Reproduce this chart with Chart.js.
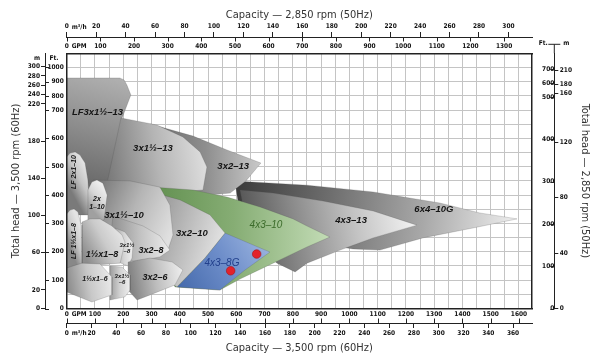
<!DOCTYPE html>
<html>
<head>
<meta charset="utf-8">
<title>Pump coverage chart</title>
<script src="https://cdn.jsdelivr.net/npm/chart.js@4.4.1/dist/chart.umd.min.js"></script>
<style>
html,body{margin:0;padding:0;background:#fff;}
#wrap{width:600px;height:357px;}
canvas{display:block;}
</style>
</head>
<body>
<div id="wrap"><canvas id="chart" width="600" height="357"></canvas></div>
<script>
// ===== Axis tick values =====
const GPM_GRID_60 = [0,50,100,150,200,250,300,350,400,450,500,550,600,650,700,750,800,850,900,950,1000,1050,1100,1150,1200,1250,1300,1350,1400,1450,1500,1550,1600];
const GPM_LABELS_60 = [0,100,200,300,400,500,600,700,800,900,1000,1100,1200,1300,1400,1500,1600];
const M3H_LABELS_60 = [0,20,40,60,80,100,120,140,160,180,200,220,240,260,280,300,320,340,360];
const GPM_LABELS_50 = [0,100,200,300,400,500,600,700,800,900,1000,1100,1200,1300];
const M3H_LABELS_50 = [0,20,40,60,80,100,120,140,160,180,200,220,240,260,280,300];
const FT_GRID_60 = [0,50,100,150,200,250,300,350,400,450,500,550,600,650,700,800,900,1000,1100];
const FT_LABELS_60 = [0,100,200,300,400,500,600,700,800,900,1000];
const M_LABELS_60 = [0,20,60,100,140,180,220,240,260,280,300];
const FT_LABELS_50 = [0,100,200,300,400,500,600,700];
const M_LABELS_50 = [0,40,80,120,160,180,210];

// ===== Pump coverage regions: [capacity GPM, total head ft] at 3,500 rpm =====
const PUMP_NAMES = ['6x4–10G','4x3–13','3x2–13','LF3x1½–13','3x1½–13','4x3–10','4x3–8G','3x2–10','3x1½–10','LF 2x1–10','2x1–10','3x2–8','3x1½–8','1½x1–8','LF 1½x1–8','3x2–6','3x1½–6','1½x1–6'];
const REGION_6x4_10G = [[595,450],[850,435],[1084,411],[1320,372],[1461,337],[1593,316],[1437,284],[1260,249],[1108,206],[1013,210],[825,241],[613,330]];
const REGION_4x3_13 = [[613,418],[730,407],[907,379],[1084,344],[1239,294],[1084,249],[967,206],[850,160],[808,129],[744,160],[648,241]];
const REGION_3x2_13 = [[295,651],[447,608],[567,559],[687,513],[634,450],[578,407],[471,397],[295,418]];
const REGION_LF3x1h_13 = [[0,926],[188,926],[203,912],[213,876],[227,806],[196,672],[171,524],[160,418],[0,418]];
const REGION_3x1h_13 = [[192,672],[319,647],[411,605],[472,552],[496,499],[482,418],[259,400],[143,443]];
const REGION_4x3_10 = [[249,432],[447,418],[567,393],[684,358],[801,316],[850,291],[931,252],[850,217],[730,160],[613,104],[542,65],[383,76],[295,277]];
const REGION_4x3_8G = [[560,266],[719,199],[631,136],[542,65],[390,76],[489,178]];
const REGION_3x2_10 = [[118,446],[249,425],[401,383],[507,330],[560,266],[489,178],[390,76],[330,118],[259,189],[171,277],[100,383]];
const REGION_3x1h_10 = [[93,453],[224,450],[330,428],[365,365],[376,259],[358,206],[224,241],[118,312]];
const REGION_LF2x1_10 = [[0,534],[12,548],[30,552],[47,541],[65,513],[75,453],[82,330],[0,330]];
const REGION_2x1_10 = [[75,418],[89,446],[107,453],[128,442],[143,400],[132,312],[75,305]];
const REGION_3x2_8 = [[164,326],[270,291],[330,256],[365,206],[330,182],[270,171],[189,164],[153,241]];
const REGION_3x1h_8 = [[171,284],[206,270],[235,231],[231,178],[217,150],[182,164]];
const REGION_1hx1_8 = [[54,305],[82,316],[118,316],[160,291],[196,259],[206,234],[189,160],[54,150]];
const REGION_LF1hx1_8 = [[0,333],[12,347],[26,351],[40,340],[51,294],[54,143],[0,143]];
const REGION_3x2_6 = [[217,164],[295,178],[373,164],[411,136],[383,83],[295,48],[249,30],[217,65]];
const REGION_3x1h_6 = [[153,150],[196,146],[224,118],[224,65],[206,41],[153,30]];
const REGION_1hx1_6 = [[0,143],[54,160],[118,157],[160,111],[160,48],[89,23],[0,58]];
const PUMP_REGIONS = [REGION_6x4_10G,REGION_4x3_13,REGION_3x2_13,REGION_LF3x1h_13,REGION_3x1h_13,REGION_4x3_10,REGION_4x3_8G,REGION_3x2_10,REGION_3x1h_10,REGION_LF2x1_10,REGION_2x1_10,REGION_3x2_8,REGION_3x1h_8,REGION_1hx1_8,REGION_LF1hx1_8,REGION_3x2_6,REGION_3x1h_6,REGION_1hx1_6];

// ===== Duty points =====
const DUTY_GPM = [672, 580];
const DUTY_FT = [192, 133];

// ===== Region labels (text lines, anchor GPM, anchor ft) =====
const LABEL_TEXT = [['LF3x1½–13'],['3x1½–13'],['3x2–13'],['4x3–13'],['6x4–10G'],['4x3–10'],['4x3–8G'],['3x2–10'],['3x1½–10'],['2x','1–10'],['LF 2x1–10'],['LF 1½x1–8'],['1½x1–8'],['3x1½','–8'],['3x2–8'],['1½x1–6'],['3x1½','–6'],['3x2–6']];
const LABEL_GPM = [109,305,589,1006,1299,705,549,443,203,107,26,26,125,213,298,100,196,312];
const LABEL_FT = [693,566,502,312,351,294,160,266,330,372,481,238,189,213,206,104,104,111];

// ===== Styles =====
const FONT_NARROW = '"DejaVu Sans Condensed", "Liberation Sans Narrow", Roboto, sans-serif';
const FONT_LBL = '"Liberation Sans", Arial, sans-serif';
const REGION_FILL = [
  {dir:[0,0.3,1,0.7], stops:['#3a3a3a','#6e6e6e','#a8a8a8','#efefef']},
  {dir:[0,0.8,1,0.4], stops:['#4d4d4d','#8a8a8a','#c4c4c4','#f4f4f4']},
  {dir:[0,0.5,1,0.5], stops:['#6a6a6a','#8e8e8e','#c9c9c9']},
  {dir:[0.3,1,0.8,0], stops:['#666666','#8c8c8c','#b0b0b0']},
  {dir:[0,0.6,1,0.4], stops:['#7b7b7b','#b5b5b5','#e0e0e0']},
  {dir:[0,0.5,1,0.5], stops:['#5b8a49','#86ad74','#c3dcb6']},
  {dir:[0,1,1,0], stops:['#4469ab','#6d8dc9','#a2bae3']},
  {dir:[0,0.2,1,0.6], stops:['#5a5a5a','#a0a0a0','#e6e6e6']},
  {dir:[0,0.2,1,0.7], stops:['#777777','#b5b5b5','#e0e0e0']},
  {dir:[0,0.5,1,0.3], stops:['#7a7a7a','#c4c4c4','#e8e8e8']},
  {dir:[0,0.6,1,0.2], stops:['#a0a0a0','#d8d8d8','#f2f2f2']},
  {dir:[0,0.5,1,0.5], stops:['#8d8d8d','#c2c2c2','#ececec']},
  {dir:[0,0.5,1,0.5], stops:['#a5a5a5','#d5d5d5','#f0f0f0']},
  {dir:[0,0.7,1,0.2], stops:['#8c8c8c','#cbcbcb','#ececec']},
  {dir:[0,0.5,1,0.4], stops:['#888888','#c9c9c9','#e4e4e4']},
  {dir:[0,0.6,1,0.4], stops:['#7c7c7c','#bdbdbd','#ededed']},
  {dir:[0,0.5,1,0.5], stops:['#9d9d9d','#d2d2d2','#efefef']},
  {dir:[0,0.6,1,0.4], stops:['#8a8a8a','#c8c8c8','#eaeaea']}
];
const S_BIG = {font:'italic bold 9.5px '+FONT_LBL, color:'#151515', lh:0, rot:0};
const S_MID = {font:'italic bold 9px '+FONT_LBL, color:'#151515', lh:0, rot:0};
const S_SM = {font:'italic bold 7px '+FONT_LBL, color:'#151515', lh:7.5, rot:0};
const S_XS = {font:'italic bold 6px '+FONT_LBL, color:'#151515', lh:6.2, rot:0};
const S_VERT = {font:'italic bold 7px '+FONT_LBL, color:'#151515', lh:0, rot:-Math.PI/2};
const S_GREEN = {font:'italic 10px '+FONT_LBL, color:'#3b6b2a', lh:0, rot:0};
const S_BLUE = {font:'italic 10px '+FONT_LBL, color:'#22408c', lh:0, rot:0};
const LABEL_STYLE = [S_BIG,S_BIG,S_BIG,S_BIG,S_BIG,S_GREEN,S_BLUE,S_BIG,S_BIG,S_SM,S_VERT,S_VERT,S_MID,S_XS,S_MID,S_SM,S_XS,S_MID];

// ===== Piecewise (broken) linear scale for compressed upper head range =====
class BrokenScale extends Chart.LinearScale {
  static id = 'broken';
  static defaults = Chart.LinearScale.defaults;
  _tf(v){ const b=this.options.breakAt, f=this.options.factor; return v<=b ? v : b+(v-b)*f; }
  _itf(t){ const b=this.options.breakAt, f=this.options.factor; return t<=b ? t : b+(t-b)/f; }
  getPixelForValue(v){
    if (v===null || v===undefined || isNaN(v)) return NaN;
    const t0=this._tf(this.min), t1=this._tf(this.max);
    return this.getPixelForDecimal((this._tf(v)-t0)/(t1-t0));
  }
  getValueForPixel(p){
    const t0=this._tf(this.min), t1=this._tf(this.max);
    return this._itf(t0+this.getDecimalForPixel(p)*(t1-t0));
  }
}
Chart.register(BrokenScale);

function regionFill(ctx, i){
  const st = REGION_FILL[i];
  const chart = ctx.chart;
  const xs = chart.scales && chart.scales.x, ys = chart.scales && chart.scales.y;
  if (!chart.chartArea || !xs || !ys) return st.stops[1];
  let x0=1e9,x1=-1e9,y0=1e9,y1=-1e9;
  for (const p of PUMP_REGIONS[i]) {
    const px=xs.getPixelForValue(p[0]), py=ys.getPixelForValue(p[1]);
    x0=Math.min(x0,px); x1=Math.max(x1,px); y0=Math.min(y0,py); y1=Math.max(y1,py);
  }
  if (!isFinite(x0+x1+y0+y1)) return st.stops[1];
  const d = st.dir;
  const g = chart.ctx.createLinearGradient(x0+(x1-x0)*d[0], y0+(y1-y0)*d[1], x0+(x1-x0)*d[2], y0+(y1-y0)*d[3]);
  st.stops.forEach((c,k)=>g.addColorStop(k/(st.stops.length-1), c));
  return g;
}

const datasets = PUMP_REGIONS.map((pts,i)=>({
  label: PUMP_NAMES[i],
  data: pts.concat([pts[0]]).map(p=>({x:p[0], y:p[1]})),
  showLine: true,
  fill: 'shape',
  tension: 0,
  pointRadius: 0,
  pointHoverRadius: 0,
  borderWidth: 0.6,
  borderColor: 'rgba(70,70,70,0.35)',
  backgroundColor: (ctx)=>regionFill(ctx,i),
  order: PUMP_REGIONS.length - i + 1
}));
datasets.push({
  label: 'Duty points',
  data: DUTY_GPM.map((g,k)=>({x:g, y:DUTY_FT[k]})),
  showLine: false,
  pointRadius: 4.3,
  backgroundColor: '#e3222b',
  borderColor: '#a3121a',
  borderWidth: 0.6,
  order: 0
});

const regionLabels = {
  id: 'regionLabels',
  afterDatasetsDraw(chart){
    const {ctx, scales:{x, y}} = chart;
    LABEL_TEXT.forEach((lines,k)=>{
      const st = LABEL_STYLE[k];
      const px = x.getPixelForValue(LABEL_GPM[k]), py = y.getPixelForValue(LABEL_FT[k]);
      ctx.save();
      ctx.translate(px, py);
      if (st.rot) ctx.rotate(st.rot);
      ctx.font = st.font; ctx.fillStyle = st.color;
      ctx.textAlign = 'center'; ctx.textBaseline = 'middle';
      const n = lines.length;
      lines.forEach((t,j)=>ctx.fillText(t, 0, (j-(n-1)/2)*st.lh));
      ctx.restore();
    });
  }
};

const axisDecor = {
  id: 'axisDecor',
  afterDraw(chart){
    const {ctx, chartArea:ca, scales:s} = chart;
    ctx.save();
    ctx.strokeStyle = '#222'; ctx.lineWidth = 1;
    const seg=(a,b,c,d)=>{ctx.beginPath();ctx.moveTo(a,b);ctx.lineTo(c,d);ctx.stroke();};
    const yb = s.xm.top;
    GPM_LABELS_60.forEach(v=>{const p=Math.round(s.x.getPixelForValue(v))+0.5; seg(p,yb,p,yb-4.5);});
    const yt = s.xtm.bottom;
    GPM_LABELS_50.forEach(v=>{const p=Math.round(s.xt.getPixelForValue(v))+0.5; seg(p,yt,p,yt+4.5);});
    const xl = s.ym.right;
    FT_LABELS_60.forEach(v=>{const p=Math.round(s.y.getPixelForValue(v))+0.5; seg(xl,p,xl+4,p);});
    const xr = s.yrm.left;
    FT_LABELS_50.forEach(v=>{const p=Math.round(s.yr.getPixelForValue(v))+0.5; seg(xr,p,xr-4,p);});
    seg(xr, ca.top, xr, ca.top-9); seg(xr-6, ca.top-9, xr+6, ca.top-9);
    ctx.fillStyle = '#111';
    ctx.font = 'bold 6.5px ' + FONT_NARROW;
    ctx.textBaseline = 'middle'; ctx.textAlign = 'left';
    const ux = ca.left + 5;
    ctx.fillText('GPM', ux, s.x.top + 5.5);
    ctx.fillText('m³/h', ux, s.xm.top + 10.5);
    ctx.fillText('m³/h', ux, s.xtm.bottom - 9.5);
    ctx.fillText('GPM', ux, s.xt.bottom - 7);
    ctx.textAlign = 'center';
    ctx.fillText('m', s.ym.right - 8, ca.top + 5.5);
    ctx.fillText('Ft.', s.y.left + 9, ca.top + 5.5);
    ctx.fillText('Ft.', xr - 11, ca.top - 9.5);
    ctx.fillText('m', xr + 12, ca.top - 9.5);
    ctx.restore();
  }
};

const tickFont = {family: FONT_NARROW, size: 6.5, weight: 'bold'};
const titleFont = {family: FONT_NARROW, size: 11, weight: 'normal'};
const GRID_COLOR = '#c4c4c4';
const AXIS_COLOR = '#222';
const setTicks = arr => (s => { s.ticks = arr.map(v=>({value:v})); });
const plain = v => String(v);

new Chart(document.getElementById('chart'), {
  type: 'scatter',
  data: { datasets },
  options: {
    responsive: false,
    animation: false,
    events: [],
    layout: { padding: 0 },
    plugins: { legend: {display:false}, tooltip: {enabled:false} },
    scales: {
      x: {
        type:'linear', position:'bottom', weight:0, min:0, max:1646, bounds:'data',
        afterBuildTicks: setTicks(GPM_GRID_60),
        afterFit: s => { s.height = 14.5; },
        ticks: { autoSkip:false, maxRotation:0, minRotation:0, padding:2, color:'#111', font:tickFont,
                 callback: v => GPM_LABELS_60.includes(v) ? String(v) : '' },
        grid: { color:GRID_COLOR, lineWidth:1, drawTicks:false },
        border: { display:true, color:AXIS_COLOR, width:1.5, z:1 }
      },
      xm: {
        type:'linear', position:'bottom', weight:1, min:0, max:375.3, bounds:'data',
        afterBuildTicks: setTicks(M3H_LABELS_60),
        afterFit: s => { s.height = 34; },
        ticks: { autoSkip:false, maxRotation:0, minRotation:0, padding:1, color:'#111', font:tickFont, callback: plain },
        grid: { drawOnChartArea:false, drawTicks:true, tickLength:5, color:AXIS_COLOR },
        border: { display:true, color:AXIS_COLOR, width:1 },
        title: { display:true, text:'Capacity — 3,500 rpm (60Hz)', font:titleFont, color:'#333', padding:{top:0,bottom:2} }
      },
      xt: {
        type:'linear', position:'top', weight:0, min:0, max:1383, bounds:'data',
        afterBuildTicks: setTicks(GPM_LABELS_50),
        afterFit: s => { s.height = 16.3; },
        ticks: { autoSkip:false, maxRotation:0, minRotation:0, padding:3.5, color:'#111', font:tickFont, callback: plain },
        grid: { drawOnChartArea:false, drawTicks:false, color:AXIS_COLOR },
        border: { display:true, color:AXIS_COLOR, width:1.5, z:1 }
      },
      xtm: {
        type:'linear', position:'top', weight:1, min:0, max:316, bounds:'data',
        afterBuildTicks: setTicks(M3H_LABELS_50),
        afterFit: s => { s.height = 37; },
        ticks: { autoSkip:false, maxRotation:0, minRotation:0, padding:1.5, color:'#111', font:tickFont, callback: plain },
        grid: { drawOnChartArea:false, drawTicks:true, tickLength:5, color:AXIS_COLOR },
        border: { display:true, color:AXIS_COLOR, width:1 },
        title: { display:true, text:'Capacity — 2,850 rpm (50Hz)', font:titleFont, color:'#333', padding:{top:9,bottom:0} }
      },
      y: {
        type:'broken', position:'left', weight:0, min:0, max:1100, breakAt:700, factor:0.5, bounds:'data',
        afterBuildTicks: setTicks(FT_GRID_60),
        afterFit: s => { s.width = 21.7; },
        ticks: { autoSkip:false, padding:3, color:'#111', font:tickFont,
                 callback: v => FT_LABELS_60.includes(v) ? String(v) : '' },
        grid: { color:GRID_COLOR, lineWidth:1, drawTicks:false },
        border: { display:true, color:AXIS_COLOR, width:1.5, z:1 }
      },
      ym: {
        type:'broken', position:'left', weight:1, min:0, max:328.6, breakAt:220, factor:0.5, bounds:'data',
        afterBuildTicks: setTicks(M_LABELS_60),
        afterFit: s => { s.width = 45; },
        ticks: { autoSkip:false, padding:1, color:'#111', font:tickFont, callback: plain },
        grid: { drawOnChartArea:false, drawTicks:true, tickLength:4, color:AXIS_COLOR },
        border: { display:true, color:AXIS_COLOR, width:1 },
        title: { display:true, text:'Total head — 3,500 rpm (60Hz)', font:titleFont, color:'#333', padding:{top:10,bottom:0} }
      },
      yr: {
        type:'broken', position:'right', weight:0, min:0, max:811.6, breakAt:500, factor:1/3, bounds:'data',
        afterBuildTicks: setTicks(FT_LABELS_50),
        afterFit: s => { s.width = 22.3; },
        ticks: { autoSkip:false, padding:4, crossAlign:'far', color:'#111', font:tickFont, callback: plain },
        grid: { drawOnChartArea:false, drawTicks:false, color:AXIS_COLOR },
        border: { display:true, color:AXIS_COLOR, width:1.5, z:1 }
      },
      yrm: {
        type:'broken', position:'right', weight:1, min:0, max:247.3, breakAt:152.4, factor:1/3, bounds:'data',
        afterBuildTicks: setTicks(M_LABELS_50),
        afterFit: s => { s.width = 45.7; },
        ticks: { autoSkip:false, padding:1.5, color:'#111', font:tickFont, callback: plain },
        grid: { drawOnChartArea:false, drawTicks:true, tickLength:4, color:AXIS_COLOR },
        border: { display:true, color:AXIS_COLOR, width:1 },
        title: { display:true, text:'Total head — 2,850 rpm (50Hz)', font:titleFont, color:'#333', padding:{top:9,bottom:0} }
      }
    }
  },
  plugins: [regionLabels, axisDecor]
});
</script>
</body>
</html>
